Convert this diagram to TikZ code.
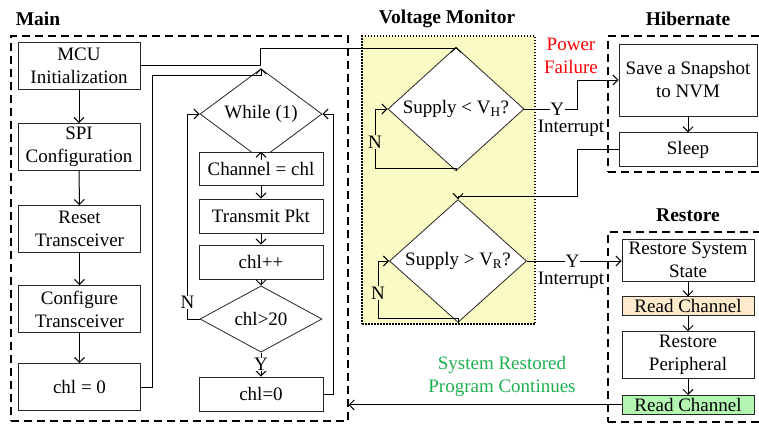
\documentclass[tikz,border=0pt]{standalone}
\usepackage{fontspec}
\setmainfont{Liberation Serif}
\usetikzlibrary{shapes.geometric,arrows.meta,positioning,calc}
\definecolor{vmyellow}{RGB}{250,250,196}
\definecolor{chorange}{RGB}{253,234,204}
\definecolor{chgreen}{RGB}{178,246,178}
\definecolor{txtgreen}{RGB}{30,176,80}

\begin{document}
\begin{tikzpicture}[x=1pt, y=-1pt, font=\fontsize{19}{23}\selectfont,
    box/.style={draw=black!85, line width=0.8pt, fill=white, inner sep=1pt, align=center},
    mainbox/.style={box, minimum width=122, minimum height=47},
    loopbox/.style={box, minimum width=124, minimum height=34},
    sidebox/.style={box, minimum width=132, minimum height=19},
    dia/.style={draw=black!85, line width=0.8pt, fill=white, diamond, inner sep=0pt, align=center},
    frame/.style={draw, line width=1.2pt, dash pattern=on 8pt off 5pt, inner sep=0pt},
    title/.style={font=\fontsize{19.5}{23}\selectfont\bfseries},
    lbl/.style={fill=white, inner sep=0.5pt},
    flow/.style={-{Straight Barb[length=5pt, width=10pt, line width=1pt]}, line width=1pt}]
\useasboundingbox (0,0) rectangle (759,424);

% frames
\node[frame, minimum width=337, minimum height=385] (mainfr) at (179.5,228.5) {};
\node[frame, fill=vmyellow, dash pattern=on 1.5pt off 1.5pt, minimum width=173, minimum height=288] (vmfr) at (448.5,180) {};
\node[frame, minimum width=157, minimum height=136] (hibfr) at (686.5,104) {};
\node[frame, minimum width=157, minimum height=190] (resfr) at (686.5,327) {};

\node[title] (tmain) at (38,19) {Main};
\node[title] (tvm) at (447,19) {Voltage Monitor};
\node[title] (thib) at (688,19) {Hibernate};
\node[title] (tres) at (688,215) {Restore};

% main
\node[mainbox] (mcu) at (79,65.5) {MCU\\Initialization};
\node[mainbox] (spi) at (79,147) {SPI\\Configuration};
\node[mainbox] (rst) at (79.5,229) {Reset\\Transceiver};
\node[mainbox] (cfg) at (79.5,309) {Configure\\Transceiver};
\node[mainbox] (chlz) at (79.5,387) {chl = 0};

\node[dia, minimum width=122, minimum height=54] (whl) at (261,114) {While (1)};
\node[loopbox, minimum height=33] (chan) at (261,168.5) {Channel = chl};
\node[loopbox] (tx) at (261,216) {Transmit Pkt};
\node[loopbox] (inc) at (261,262) {chl++};
\node[dia, minimum width=122, minimum height=54] (cmp) at (261,319) {chl>20};
\node[loopbox] (rchl) at (261,394) {chl=0};

\draw[flow] (mcu) -- (spi);
\draw[flow] (spi) -- (rst);
\draw[flow] (rst) -- (cfg);
\draw[flow] (cfg) -- (chlz);
\draw[flow] (whl) -- (chan);
\draw[flow] (chan) -- (tx);
\draw[flow] (tx) -- (inc);
\draw[flow] (inc) -- (cmp);
\draw[flow] (cmp) -- node[lbl] {Y} (rchl);

\coordinate (loopin) at (152,75);
\draw[flow] (chlz.east) -| (loopin) -| (whl.north);
\draw[flow] (cmp.west) -- ++(-12,0) |- node[lbl, pos=0.04] {N} (whl.west);
\draw[flow] (rchl.east) -- ++(10,0) |- (whl.east);

% voltage monitor
\node[dia, minimum width=136, minimum height=94] (low) at (456,109) {Supply < V\textsubscript{H}?};
\node[dia, minimum width=137, minimum height=93] (high) at (458,261) {Supply > V\textsubscript{R}?};

\coordinate (mcuup) at (260,48);
\draw[flow] (mcu.east) -| (mcuup) -| (low.north);
\coordinate (lowret) at (375,168);
\draw[flow] (low.south) |- (lowret) |- node[lbl, fill=vmyellow, pos=0.22] {N} (low.west);
\coordinate (highret) at (378,318);
\draw[flow] (high.south) |- (highret) |- node[lbl, fill=vmyellow, pos=0.22] {N} (high.west);

% hibernate
\node[box, minimum width=138, minimum height=72] (snap) at (688,80) {Save a Snapshot\\to NVM};
\node[box, minimum width=138, minimum height=34, below=16pt of snap] (sleep) {Sleep};
\draw[flow] (snap) -- (sleep);

\node[text=red, align=center] (pf) at (571,56) {Power\\Failure};
\node (int1) at (571,128) {Interrupt};
\draw[flow] (low.east) -- node[lbl, pos=0.62] {Y} ++(53,0) |- (snap.west);

\coordinate (wake) at (577,196);
\draw[flow] (sleep.west) -| (wake) -| (high.north);

% restore
\node[box, minimum width=132, minimum height=42] (rss) at (688,260) {Restore System\\State};
\node[sidebox, fill=chorange, below=15pt of rss] (rd1) {Read Channel};
\node[box, minimum width=132, minimum height=47, below=15pt of rd1] (rper) {Restore\\Peripheral};
\node[sidebox, fill=chgreen, below=16pt of rper] (rd2) {Read Channel};
\draw[flow] (rss) -- (rd1);
\draw[flow] (rd1) -- (rper);
\draw[flow] (rper) -- (rd2);

\node (int2) at (571,280) {Interrupt};
\draw[flow] (high.east) -- node[lbl, pos=0.48] {Y} (rss.west |- high.east);

\node[text=txtgreen, align=center] (sysok) at (502,376) {System Restored\\Program Continues};
\draw[flow] (rd2.west) -- (mainfr.east |- rd2.west);
\end{tikzpicture}
\end{document}
